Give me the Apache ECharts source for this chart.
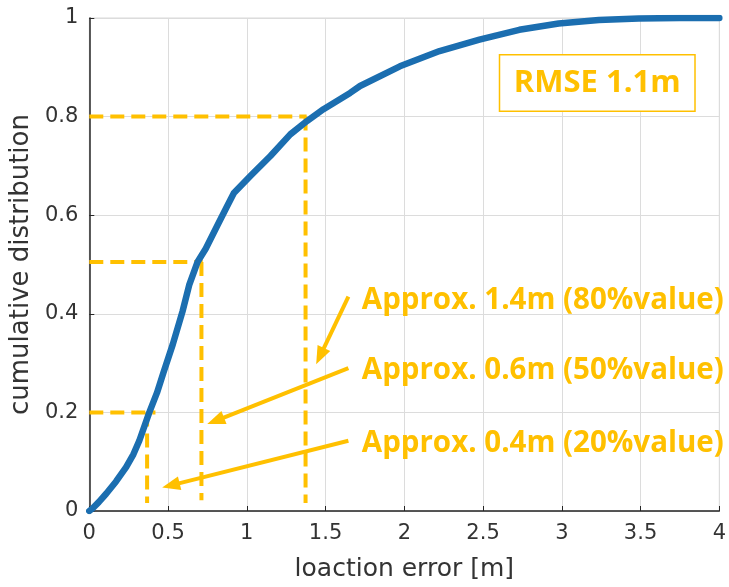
<!DOCTYPE html>
<html>
<head>
<meta charset="utf-8">
<script src="https://cdn.jsdelivr.net/npm/echarts@6/dist/echarts.min.js"></script>
<style>
html,body{margin:0;padding:0;background:#fff;}
#c{width:729px;height:587px;}
</style>
</head>
<body>
<div id="c"></div>
<script>
// CDF curve (location error [m] vs cumulative distribution)
const errX = [0, 0.02, 0.06, 0.107, 0.17, 0.234, 0.28, 0.318, 0.381, 0.43, 0.47, 0.53, 0.592, 0.634, 0.687, 0.739, 0.813, 0.87, 0.918, 1.024, 1.15, 1.276, 1.382, 1.487, 1.656, 1.719, 1.972, 2.224, 2.477, 2.73, 2.98, 3.235, 3.488, 3.75, 4.0];
const cdfY = [0, 0.005, 0.018, 0.035, 0.06, 0.089, 0.115, 0.143, 0.2, 0.24, 0.28, 0.338, 0.405, 0.458, 0.505, 0.532, 0.579, 0.615, 0.645, 0.68, 0.72, 0.764, 0.791, 0.815, 0.848, 0.862, 0.902, 0.933, 0.956, 0.976, 0.989, 0.996, 0.999, 1.0, 1.0];

// percentile guide lines: level, x where reached, end of horizontal segment, bottom of vertical
const guideLevel = [0.2, 0.505, 0.8];
const guideX = [0.367, 0.712, 1.373];
const guideHEnd = [0.42, 0.72, 1.38];
const guideVBottom = [0.016, 0.022, 0.016];

// annotation arrows: tail -> head
const arrowTailX = [1.645, 1.645, 1.645];
const arrowTailY = [0.435, 0.29, 0.1425];
const arrowHeadX = [1.465, 0.802, 0.518];
const arrowHeadY = [0.314, 0.183, 0.052];

// annotation texts
const noteText = ['Approx. 1.4m (80%value)', 'Approx. 0.6m (50%value)', 'Approx. 0.4m (20%value)'];
const noteX = [1.73, 1.73, 1.73];
const noteY = [0.427, 0.285, 0.137];

const rmseText = 'RMSE 1.1m';
const rmsePos = [3.225, 0.868];

const xTicks = {min: 0, max: 4, interval: 0.5};
const yTicks = {min: 0, max: 1, interval: 0.2};

const ORANGE = '#FFC000';
const AXIS = '#262626';

const series = [];
for (let i = 0; i < guideLevel.length; i++) {
  series.push({
    type: 'line', silent: true, symbol: 'none', z: 3,
    lineStyle: {color: ORANGE, width: 4, type: [14, 7]},
    data: [[0, guideLevel[i]], [guideHEnd[i], guideLevel[i]]]
  });
  series.push({
    type: 'line', silent: true, symbol: 'none', z: 3,
    lineStyle: {color: ORANGE, width: 4, type: [14, 7]},
    data: [[guideX[i], guideLevel[i]], [guideX[i], guideVBottom[i]]]
  });
}
series.push({
  type: 'line', silent: true, symbol: 'none', z: 4,
  lineStyle: {color: '#1b6eb0', width: 6.5, cap: 'round', join: 'round'},
  data: errX.map((x, i) => [x, cdfY[i]])
});
series.push({
  type: 'scatter', silent: true, symbolSize: 0, z: 5,
  itemStyle: {opacity: 1},
  data: noteText.map((t, i) => [noteX[i], noteY[i], t]),
  label: {
    show: true, position: 'right', distance: 0,
    formatter: p => p.value[2],
    color: ORANGE, fontFamily: 'Open Sans', fontWeight: 'bold', fontSize: 29.5
  },
  markLine: {
    silent: true, symbol: ['none', 'triangle'], symbolSize: [14, 18],
    label: {show: false},
    lineStyle: {color: ORANGE, width: 4, type: 'solid', opacity: 1},
    itemStyle: {opacity: 1},
    data: arrowTailX.map((x, i) => [{coord: [x, arrowTailY[i]]}, {coord: [arrowHeadX[i], arrowHeadY[i]]}])
  }
});
series.push({
  type: 'scatter', silent: true, symbolSize: 0, z: 6,
  itemStyle: {opacity: 1},
  data: [[rmsePos[0], rmsePos[1], rmseText]],
  label: {
    show: true, position: 'inside',
    formatter: p => p.value[2],
    color: ORANGE, fontFamily: 'Open Sans', fontWeight: 'bold', fontSize: 31,
    backgroundColor: '#fff', borderColor: ORANGE, borderWidth: 1.5,
    width: 194, height: 55, lineHeight: 55, align: 'center', verticalAlign: 'middle'
  }
});

const chart = echarts.init(document.getElementById('c'), null, {renderer: 'canvas'});
chart.setOption({
  animation: false,
  backgroundColor: '#fff',
  grid: {left: 88, top: 18, right: 8, bottom: 73, show: true, borderColor: '#d9d9d9', borderWidth: 1},
  xAxis: {
    type: 'value', min: xTicks.min, max: xTicks.max, interval: xTicks.interval,
    name: 'loaction error [m]', nameLocation: 'middle', nameGap: 46,
    nameTextStyle: {color: '#333', fontFamily: 'DejaVu Sans', fontSize: 25},
    axisLine: {show: true, onZero: false, lineStyle: {color: AXIS, width: 1.5}},
    axisTick: {show: true, inside: true, length: 5, lineStyle: {color: AXIS}},
    axisLabel: {color: '#333', fontFamily: 'DejaVu Sans', fontSize: 21, margin: 12},
    splitLine: {show: true, lineStyle: {color: '#dcdcdc', width: 1}}
  },
  yAxis: {
    type: 'value', min: yTicks.min, max: yTicks.max, interval: yTicks.interval,
    name: 'cumulative distribution', nameLocation: 'middle', nameGap: 46,
    nameTextStyle: {color: '#333', fontFamily: 'DejaVu Sans', fontSize: 26},
    axisLine: {show: true, onZero: false, lineStyle: {color: AXIS, width: 1.5}},
    axisTick: {show: true, inside: true, length: 5, lineStyle: {color: AXIS}},
    axisLabel: {color: '#333', fontFamily: 'DejaVu Sans', fontSize: 21, margin: 11},
    splitLine: {show: true, lineStyle: {color: '#dcdcdc', width: 1}}
  },
  series: series
});
</script>
</body>
</html>
